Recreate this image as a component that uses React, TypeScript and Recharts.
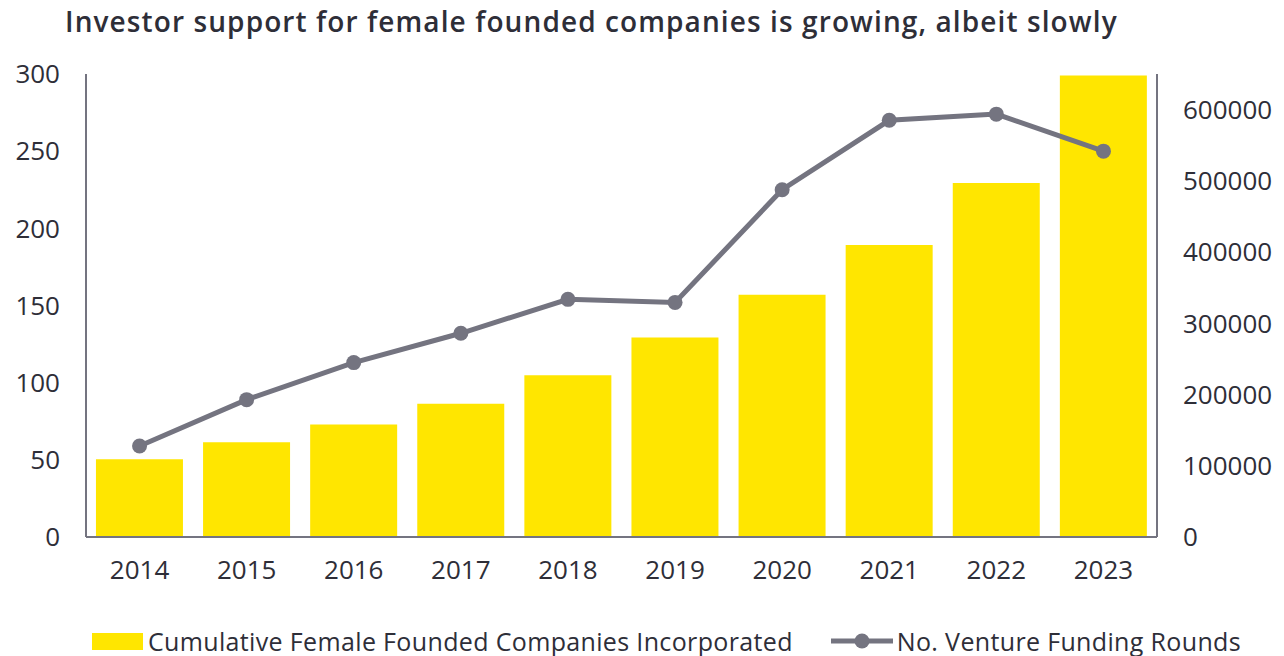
import { ComposedChart, Bar, Line, XAxis, YAxis } from 'recharts';

const years = ['2014', '2015', '2016', '2017', '2018', '2019', '2020', '2021', '2022', '2023'];
const companies = [109000, 133000, 158000, 187000, 227000, 280000, 340000, 410000, 497000, 648000];
const rounds = [59, 89, 113, 132, 154, 152, 225, 270, 274, 250];

const leftTicks = [0, 50, 100, 150, 200, 250, 300];
const rightTicks = [0, 100000, 200000, 300000, 400000, 500000, 600000];

const data = years.map((year, i) => ({
  year,
  companies: companies[i],
  rounds: rounds[i],
}));

const YELLOW = '#FFE600';
const GREY = '#747480';
const TEXT = '#2e2e38';
const FONT = '"Open Sans", sans-serif';

const tickStyle = { fill: TEXT, fontSize: 26, fontFamily: FONT };

export default function App() {
  return (
    <div style={{ position: 'absolute', left: 0, top: 0, width: 1284, height: 656, background: '#fff', fontFamily: FONT }}>
      <div
        style={{
          position: 'absolute',
          left: 65,
          top: 2,
          fontSize: 28,
          fontWeight: 600,
          letterSpacing: 1.1,
          color: TEXT,
          whiteSpace: 'nowrap',
        }}
      >
        Investor support for female founded companies is growing, albeit slowly
      </div>
      <ComposedChart
        width={1284}
        height={656}
        data={data}
        margin={{ top: 74, right: 0, bottom: 59, left: 0 }}
        barCategoryGap='9.3%'
      >
        <XAxis
          dataKey='year'
          axisLine={{ stroke: GREY, strokeWidth: 2 }}
          tickLine={false}
          tickSize={0}
          tickMargin={24}
          height={60}
          tick={tickStyle}
        />
        <YAxis
          yAxisId='left'
          domain={[0, 300]}
          ticks={leftTicks}
          width={86}
          axisLine={{ stroke: GREY, strokeWidth: 2 }}
          tickLine={false}
          tickSize={0}
          tickMargin={26}
          tick={tickStyle}
        />
        <YAxis
          yAxisId='right'
          orientation='right'
          domain={[0, 650000]}
          ticks={rightTicks}
          width={127}
          axisLine={{ stroke: GREY, strokeWidth: 2 }}
          tickLine={false}
          tickSize={0}
          tickMargin={26}
          tick={{ ...tickStyle, textAnchor: 'start' }}
        />
        <Bar yAxisId='right' dataKey='companies' fill={YELLOW} isAnimationActive={false} />
        <Line
          yAxisId='left'
          dataKey='rounds'
          stroke={GREY}
          strokeWidth={5}
          dot={{ r: 7.5, fill: GREY, stroke: 'none' }}
          activeDot={false}
          isAnimationActive={false}
        />
      </ComposedChart>
      <div
        style={{
          position: 'absolute',
          left: 92,
          top: 624,
          display: 'flex',
          alignItems: 'center',
          fontSize: 25,
          letterSpacing: 0.35,
          color: TEXT,
          whiteSpace: 'nowrap',
        }}
      >
        <span style={{ display: 'inline-block', width: 51, height: 17, background: YELLOW, marginRight: 5 }} />
        <span>Cumulative Female Founded Companies Incorporated</span>
        <svg width={62} height={20} style={{ marginLeft: 38, marginRight: 4 }}>
          <line x1={0} y1={10} x2={62} y2={10} stroke={GREY} strokeWidth={5} />
          <circle cx={31} cy={10} r={7.5} fill={GREY} />
        </svg>
        <span>No. Venture Funding Rounds</span>
      </div>
    </div>
  );
}
